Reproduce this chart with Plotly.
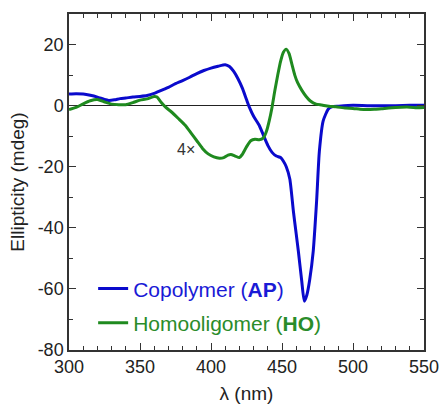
import plotly.graph_objects as go

# Copolymer (AP)
ap_wl = [300, 305, 310, 315, 320, 325, 328, 332, 336, 340, 345, 350, 355, 360, 365, 370, 375, 380,
         385, 390, 395, 400, 405, 410, 413, 416, 419, 422, 425, 427, 430, 434, 437, 440, 443, 446,
         449, 451, 453, 455.5, 458, 460, 461.5, 463.9, 465.7, 467.5, 469.5, 472, 474.4, 476.3, 479,
         482.5, 485, 490, 500, 510, 520, 530, 540, 550]
ap_val = [3.8, 3.9, 3.8, 3.4, 2.8, 2.0, 1.7, 1.9, 2.3, 2.5, 2.8, 3.0, 3.3, 4.0, 5.0, 6.0, 7.2, 8.2,
          9.3, 10.5, 11.5, 12.3, 12.9, 13.4, 12.8, 11.2, 8.8, 5.8, 2.0, -0.5, -3.5, -6.5, -9.8, -13.0, -15.3, -16.5,
          -17.0, -18.2, -20.0, -24.0, -34.5, -42.0, -47.6, -57.4, -64.0, -62.0, -57.0, -47.6, -31.0, -15.0, -5.0,
          -1.2, -0.4, -0.2, 0.1, 0.0, 0.0, 0.0, 0.1, 0.1]

# Homooligomer (HO)
ho_wl = [300, 305, 310, 315, 320, 325, 330, 335, 340, 345, 350, 355, 360, 362, 365, 368, 372, 377,
         382, 386, 390, 394, 398, 402, 406, 409, 412, 414, 417, 420, 422, 425, 428, 431, 434, 437,
         439, 441, 443, 445, 447, 449, 451, 453, 455, 457, 459, 461, 464, 467, 470, 474, 478, 483,
         488, 495, 500, 505, 510, 515, 520, 530, 540, 545, 550]
ho_val = [-1.3, -0.6, 0.6, 1.6, 2.0, 1.2, 0.5, 0.3, 0.3, 1.0, 1.8, 2.2, 3.0, 2.8, 1.0, -0.5, -2.0, -4.2,
          -6.5, -9.0, -11.5, -14.0, -15.8, -16.8, -17.2, -17.0, -16.2, -16.0, -16.5, -17.0, -16.0, -13.5, -11.5, -11.0, -11.2, -10.5,
          -8.5, -5.0, -0.5, 5.0, 10.0, 14.5, 17.5, 18.5, 17.0, 13.5, 10.0, 7.5, 5.0, 3.0, 1.5, 0.5, 0.2, -0.2,
          -0.4, -0.8, -0.9, -1.2, -1.3, -1.2, -1.0, -0.6, -0.5, -0.7, -0.6]

# Tick labels
x_ticks = [300, 350, 400, 450, 500, 550]
x_labels = ["300", "350", "400", "450", "500", "550"]
y_ticks = [-80, -60, -40, -20, 0, 20]
y_labels = ["-80", "-60", "-40", "-20", "0", "20"]

blue = "#0a0acc"
green = "#1f8a1f"
font = "Liberation Sans, Arial, sans-serif"

fig = go.Figure()
fig.add_trace(go.Scatter(
    x=ap_wl, y=ap_val, mode="lines", line=dict(color=blue, width=3, shape="spline", smoothing=0.6),
    name='<span style="color:#1a1ad6">Copolymer (<b>AP</b>)</span>', legendgroup="a"))
fig.add_trace(go.Scatter(
    x=ho_wl, y=ho_val, mode="lines", line=dict(color=green, width=3, shape="spline", smoothing=0.6),
    name='<span style="color:#2a8c2a">Homooligomer (<b>HO</b>)</span>', legendgroup="b"))

fig.add_annotation(x=382.5, y=-14.2, text="4×", showarrow=False,
                   font=dict(family=font, size=16, color="#333333"))

axis_common = dict(
    showline=True, linecolor="#333333", linewidth=1.5, mirror="ticks",
    ticks="inside", ticklen=7, tickwidth=1.2, tickcolor="#333333",
    showgrid=False, tickfont=dict(family=font, size=18, color="#222222"),
    automargin=False,
)

fig.update_xaxes(range=[300, 550], tickvals=x_ticks, ticktext=x_labels,
                 minor=dict(dtick=10, tick0=300, ticks="inside", ticklen=4, tickcolor="#333333", tickwidth=1),
                 title=dict(text="λ (nm)", font=dict(family=font, size=19, color="#222222"), standoff=10),
                 zeroline=False, **axis_common)
fig.update_yaxes(range=[-80, 30], tickvals=y_ticks, ticktext=y_labels,
                 minor=dict(dtick=10, tick0=0, ticks="inside", ticklen=4, tickcolor="#333333", tickwidth=1),
                 title=dict(text="Ellipticity (mdeg)", font=dict(family=font, size=19, color="#222222"), standoff=8),
                 zeroline=True, zerolinecolor="#222222", zerolinewidth=1.2, **axis_common)

fig.update_layout(
    width=443, height=405,
    margin=dict(l=69, r=19, t=14, b=55),
    paper_bgcolor="white", plot_bgcolor="white",
    showlegend=True,
    legend=dict(x=0.068, y=0.243, xanchor="left", yanchor="top", bgcolor="rgba(0,0,0,0)",
                font=dict(family=font, size=21), traceorder="grouped", tracegroupgap=4,
                itemwidth=30),
)

fig.write_html("out.html")
